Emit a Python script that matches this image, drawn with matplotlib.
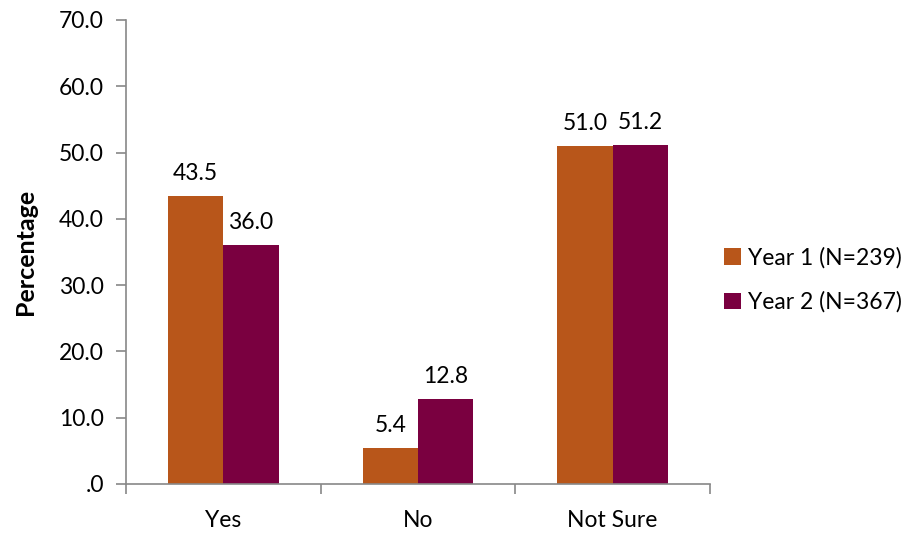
import matplotlib.pyplot as plt
import numpy as np

plt.rcParams['font.family'] = ['Lato', 'DejaVu Sans']

categories = ['Yes', 'No', 'Not Sure']
year1 = [43.5, 5.4, 51.0]
year2 = [36.0, 12.8, 51.2]
labels = ['Year 1 (N=239)', 'Year 2 (N=367)']
colors = ['#B8561A', '#7A0040']

fig = plt.figure(figsize=(9.04, 5.35), dpi=100)
ax = fig.add_axes([126 / 904, 51 / 535, 584 / 904, 464 / 535])

x = np.arange(len(categories))
w = 0.285
b1 = ax.bar(x - w / 2, year1, w, color=colors[0], label=labels[0])
b2 = ax.bar(x + w / 2, year2, w, color=colors[1], label=labels[1])

for bars, vals in ((b1, year1), (b2, year2)):
    for rect, v in zip(bars, vals):
        ax.text(rect.get_x() + rect.get_width() / 2, v + 1.8, f'{v:.1f}',
                ha='center', va='bottom', fontsize=16.5)

ax.set_xlim(-0.5, 2.5)
ax.set_ylim(0, 70)
ax.set_yticks(np.arange(0, 71, 10))
ax.set_yticklabels(['.0'] + [f'{v:.1f}' for v in range(10, 71, 10)])
ax.set_xticks(x)
ax.set_xticklabels(categories)
ax.set_xticks([-0.5, 0.5, 1.5, 2.5], minor=True)
ax.tick_params(axis='x', which='major', length=0, labelsize=16.5, pad=19)
ax.tick_params(axis='x', which='minor', length=7, color='#888888', width=1.2)
ax.tick_params(axis='y', length=7, color='#888888', width=1.2, labelsize=16.5, pad=9)

for s in ('top', 'right'):
    ax.spines[s].set_visible(False)
for s in ('left', 'bottom'):
    ax.spines[s].set_color('#888888')
    ax.spines[s].set_linewidth(1.2)

ax.set_ylabel('Percentage', fontsize=18, fontweight='bold', labelpad=16)

fig.legend(handles=[b1, b2], labels=labels, loc='center left',
           bbox_to_anchor=(703 / 904, 1 - 280 / 535), frameon=False,
           fontsize=16.5, handlelength=0.75, handleheight=0.75, handletextpad=0.3,
           labelspacing=1.0)

plt.savefig('out.png', dpi=100)
